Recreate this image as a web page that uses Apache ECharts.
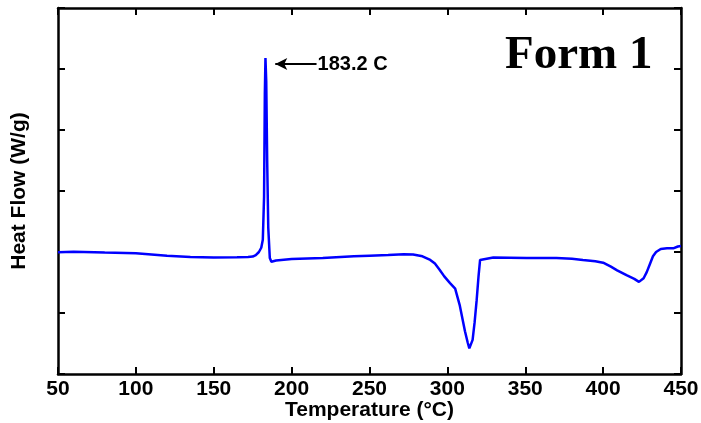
<!DOCTYPE html>
<html>
<head>
<meta charset="utf-8">
<script src="https://cdn.jsdelivr.net/npm/echarts@6/dist/echarts.min.js"></script>
<style>
  html, body { margin: 0; padding: 0; background: #fff; }
  #chart { width: 701px; height: 423px; background: #fff; }
</style>
</head>
<body>
<div id="chart"></div>
<script>
// DSC trace, Form 1: temperature (°C) and heat flow (arbitrary offset units)
const temperature = [
  50, 60, 80, 100, 110, 120, 135, 150, 165, 172, 175, 177, 179, 180.5, 181.5,
  182.3, 182.8, 183.2, 183.7, 184.3, 185, 186, 187, 190, 200, 220, 240, 250,
  262, 272, 278, 284, 289, 292, 295, 298, 301.7, 305, 308, 311.3, 313, 314.1,
  315, 316.2, 317.5, 318.8, 320, 321, 322, 329.5, 340, 351, 360, 370, 380, 387,
  395, 400, 405, 409, 415, 420, 423, 426, 428, 430, 432, 434, 437, 441, 445,
  448, 450
];
const heatFlow = [
  1.995, 2.005, 1.99, 1.98, 1.96, 1.94, 1.92, 1.91, 1.915, 1.92, 1.925, 1.95,
  2.0, 2.07, 2.2, 2.9, 4.6, 5.18, 4.8, 3.5, 2.4, 1.9, 1.84, 1.86, 1.885, 1.90,
  1.93, 1.94, 1.95, 1.965, 1.96, 1.93, 1.87, 1.81, 1.71, 1.60, 1.49, 1.40,
  1.12, 0.70, 0.52, 0.42, 0.45, 0.56, 0.85, 1.21, 1.6, 1.87, 1.90, 1.91, 1.905,
  1.90, 1.90, 1.90, 1.89, 1.87, 1.85, 1.825, 1.76, 1.70, 1.62, 1.56, 1.51,
  1.57, 1.67, 1.80, 1.93, 2.0, 2.05, 2.06, 2.06, 2.09, 2.10
];
const xTicks = [50, 100, 150, 200, 250, 300, 350, 400, 450];

// melting peak annotation
const peakTemp = 183.2;
const peakLabel = peakTemp.toFixed(1) + ' C';
const arrowY = 5.08;
const arrowFrom = 216;
const arrowTo = 189.5;

const yMin = 0;
const yMax = 6;

const points = temperature.map((t, i) => [t, heatFlow[i]]);

// short inward tick marks on the bottom and top frame edges (length in y units)
const tickLen = 0.115;
const frameTicks = xTicks.slice(1, -1).flatMap(t => [
  [{ coord: [t, yMin] }, { coord: [t, yMin + tickLen] }],
  [{ coord: [t, yMax] }, { coord: [t, yMax - tickLen] }]
]);

const boldFont = { color: '#000', fontFamily: 'Liberation Sans, Arial', fontWeight: 'bold', fontSize: 21 };
const frame = { show: true, onZero: false, lineStyle: { color: '#000', width: 2.5 } };
const tick = { show: true, inside: true, length: 7, lineStyle: { color: '#000', width: 2 } };

const chart = echarts.init(document.getElementById('chart'));
chart.setOption({
  animation: false,
  grid: { left: 58, right: 20, top: 8, bottom: 49, outerBoundsMode: 'none' },
  xAxis: [
    {
      type: 'value', min: 50, max: 450, interval: 50,
      axisLine: frame, axisTick: tick, splitLine: { show: false },
      axisLabel: {
        margin: 5, color: '#000', fontFamily: 'Liberation Sans, Arial', fontWeight: 'bold', fontSize: 21,
        formatter: v => xTicks.includes(v) ? String(v) : ''
      },
      name: 'Temperature (°C)', nameLocation: 'middle', nameGap: 26, nameMoveOverlap: false,
      nameTextStyle: boldFont
    },
    {
      type: 'value', position: 'top', min: 50, max: 450, interval: 50,
      axisLine: frame, axisTick: tick, splitLine: { show: false },
      axisLabel: { show: false }
    }
  ],
  yAxis: [
    {
      type: 'value', min: yMin, max: yMax, interval: 1,
      axisLine: frame, axisTick: tick, axisLabel: { show: false }, splitLine: { show: false },
      name: 'Heat Flow (W/g)', nameLocation: 'middle', nameGap: 28, nameRotate: 90, nameMoveOverlap: false,
      nameTextStyle: boldFont
    },
    {
      type: 'value', position: 'right', min: yMin, max: yMax, interval: 1,
      axisLine: frame, axisTick: tick, axisLabel: { show: false }, splitLine: { show: false }
    }
  ],
  series: [
    {
      type: 'line',
      data: points,
      showSymbol: false,
      lineStyle: { color: '#0000ff', width: 2.5 },
      z: 3,
      markLine: {
        silent: true,
        symbol: ['arrow', 'none'],
        symbolSize: [9, 12],
        lineStyle: { color: '#000', width: 2, type: 'solid' },
        label: {
          show: true, position: 'end', distance: 1, formatter: peakLabel,
          color: '#000', fontFamily: 'Liberation Sans, Arial', fontWeight: 'bold', fontSize: 20
        },
        data: [[{ coord: [arrowTo, arrowY] }, { coord: [arrowFrom, arrowY] }]]
      }
    },
    {
      // carrier for the frame tick marks; its own line is not drawn
      type: 'line',
      data: points,
      showSymbol: false,
      silent: true,
      lineStyle: { opacity: 0, width: 0 },
      z: 2,
      markLine: {
        silent: true,
        symbol: ['none', 'none'],
        label: { show: false },
        lineStyle: { color: '#000', width: 2, type: 'solid', opacity: 1 },
        data: frameTicks
      }
    }
  ],
  graphic: [{
    type: 'text',
    x: 505, y: 56,
    style: {
      text: 'Form 1',
      fill: '#000',
      font: 'bold 47px "Liberation Serif", "Times New Roman", serif',
      verticalAlign: 'middle',
      align: 'left'
    }
  }]
});
</script>
</body>
</html>
